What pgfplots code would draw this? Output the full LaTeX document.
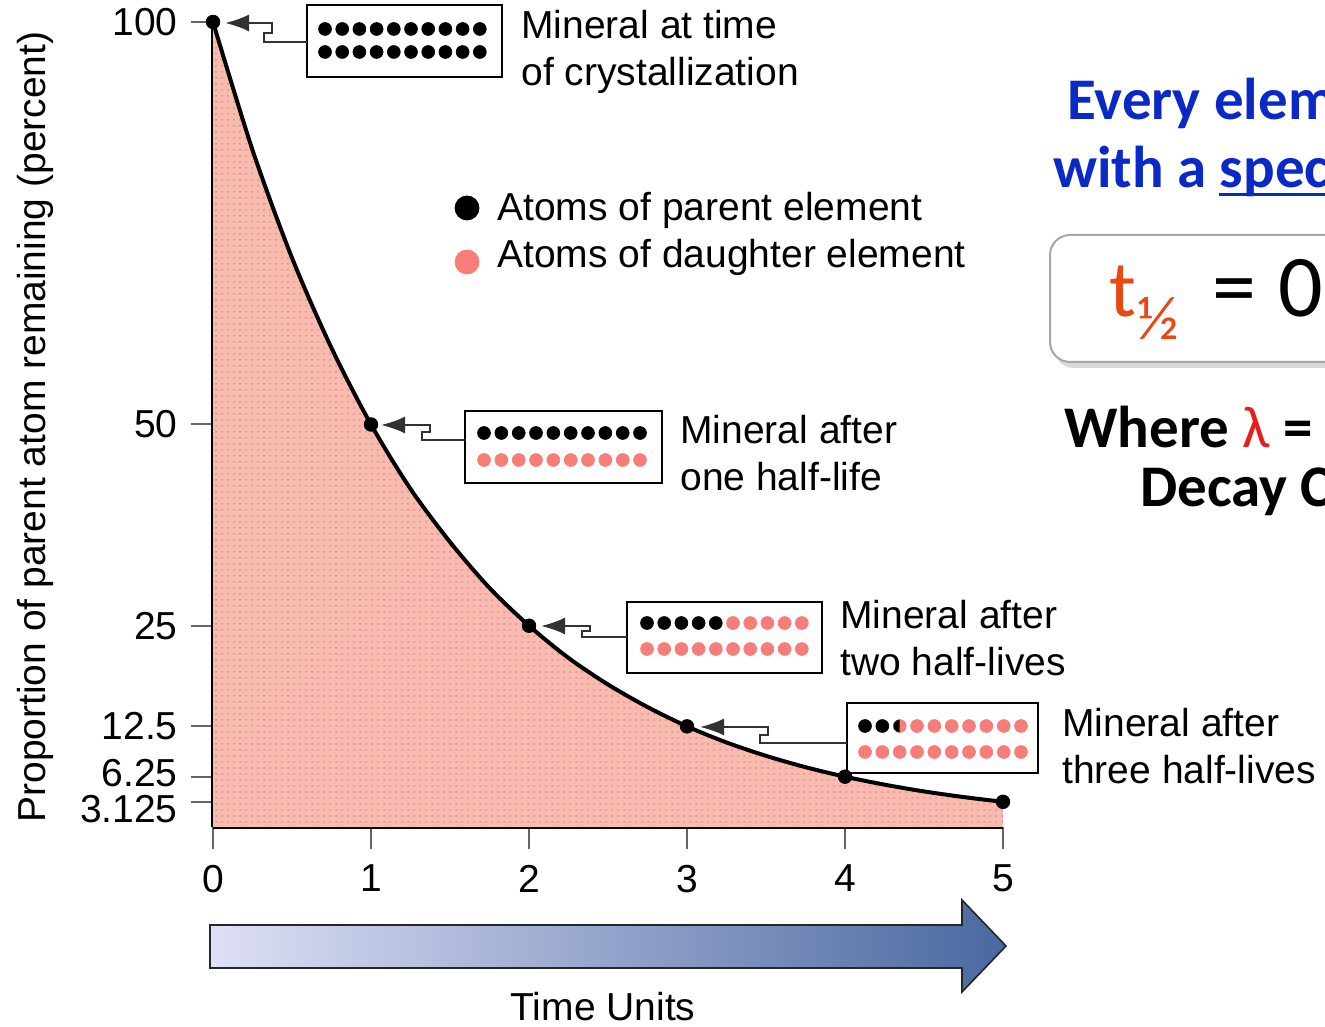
\documentclass[border=0pt]{standalone}
\usepackage{fontspec}
\setmainfont{Liberation Sans}
\newfontfamily\calfont{Carlito}
\usepackage{pgfplots}
\pgfplotsset{compat=1.18}
\usetikzlibrary{arrows.meta,patterns}
\definecolor{salm}{RGB}{247,125,120}
\definecolor{fillpk}{RGB}{248,188,174}
\definecolor{dotpk}{RGB}{234,132,168}
\definecolor{eblue}{RGB}{10,42,200}
\definecolor{tred}{RGB}{234,72,18}
\definecolor{lred}{RGB}{228,32,24}
\definecolor{arrL}{RGB}{222,224,246}
\definecolor{arrM}{RGB}{165,175,214}
\definecolor{arrR}{RGB}{74,104,160}
\definecolor{conn}{RGB}{50,50,50}
\newcommand\bigf{\fontsize{19.5}{23.5}\selectfont}
\begin{document}
\begin{tikzpicture}[trim left=0pt, trim right=662.5pt]
\path (0,0) rectangle (662.5pt,513pt);
% ---------------- main data axis ----------------
\begin{axis}[
  at={(106.5pt,99.5pt)}, anchor=south west,
  scale only axis, width=395pt, height=402.5pt,
  xmin=0, xmax=5, ymin=0, ymax=100,
  axis lines*=left, tick pos=left,
  axis line style={line width=1.6pt, black, -},
  xtick={0,1,2,3,4,5}, xticklabels={0,1,2,3,4,5},
  ytick={3.125,6.25,12.5,25,50,100},
  yticklabels={\raisebox{-3.5pt}[\height][\depth]{3.125},\raisebox{2pt}[\height][\depth]{6.25},12.5,25,50,100},
  tick align=outside, major tick length=11pt,
  major tick style={line width=1pt, black!60},
  ticklabel style={font=\bigf, text=black},
  yticklabel style={inner sep=1pt, xshift=-5.5pt},
  xticklabel style={yshift=-4.5pt},
  clip=false,
]
\addplot[draw=none, fill=fillpk, postaction={pattern=dots, pattern color=dotpk}] coordinates {
(0,100)(0.25,84.1)(0.5,70.7)(0.75,59.5)(1,50)(1.25,42.0)(1.5,35.4)(1.75,29.7)(2,25)
(2.25,21.0)(2.5,17.7)(2.75,14.9)(3,12.5)(3.25,10.5)(3.5,8.84)(3.75,7.43)(4,6.25)
(4.25,5.26)(4.5,4.42)(4.75,3.72)(5,3.125)} \closedcycle;
\addplot[black, line width=2pt, smooth] coordinates {
(0,100)(0.25,84.1)(0.5,70.7)(0.75,59.5)(1,50)(1.25,42.0)(1.5,35.4)(1.75,29.7)(2,25)
(2.25,21.0)(2.5,17.7)(2.75,14.9)(3,12.5)(3.25,10.5)(3.5,8.84)(3.75,7.43)(4,6.25)
(4.25,5.26)(4.5,4.42)(4.75,3.72)(5,3.125)};
\addplot[only marks, mark=*, mark size=3.4pt, color=black] coordinates {
(0,100)(1,50)(2,25)(3,12.5)(4,6.25)(5,3.125)};
\end{axis}
% ---------------- overlay axis in pixel units ----------------
\begin{axis}[
  at={(0pt,0pt)}, anchor=south west,
  scale only axis, width=662.5pt, height=513pt,
  xmin=0, xmax=1325, ymin=0, ymax=1026, y dir=reverse,
  hide axis, clip=false, clip marker paths=true,
]
\draw[line width=1pt, black] (axis cs:307,5) rectangle (axis cs:502,77);
\draw[line width=1pt, black] (axis cs:465,411) rectangle (axis cs:662,483);
\draw[line width=1pt, black] (axis cs:627,602) rectangle (axis cs:822,673);
\draw[line width=1pt, black] (axis cs:847,703) rectangle (axis cs:1038,773);
\addplot[conn, line width=1.1pt, -{Latex[length=12pt,width=8.5pt]}] coordinates {
(307,42)(264,42)(264,33)(272,33)(272,23)(225,23)};
\addplot[conn, line width=1.1pt, -{Latex[length=12pt,width=8.5pt]}] coordinates {
(465,440)(422,440)(422,432)(430,432)(430,425)(381,425)};
\addplot[conn, line width=1.1pt, -{Latex[length=12pt,width=8.5pt]}] coordinates {
(627,637)(582,637)(582,631)(590,631)(590,626)(541,626)};
\addplot[conn, line width=1.1pt, -{Latex[length=12pt,width=8.5pt]}] coordinates {
(847,743)(760,743)(760,735)(768,735)(768,727)(700,727)};
\addplot[only marks, mark=*, mark size=3.2pt, color=black] coordinates {
(325,29)(342.2,29)(359.4,29)(376.6,29)(393.8,29)(411,29)(428.2,29)(445.4,29)(462.6,29)(479.8,29)
(325,52)(342.2,52)(359.4,52)(376.6,52)(393.8,52)(411,52)(428.2,52)(445.4,52)(462.6,52)(479.8,52)};
\addplot[only marks, mark=*, mark size=3.2pt, color=black] coordinates {
(484,433)(501.3,433)(518.7,433)(536,433)(553.3,433)(570.7,433)(588,433)(605.3,433)(622.7,433)(640,433)};
\addplot[only marks, mark=*, mark size=3.2pt, color=salm] coordinates {
(484,460)(501.3,460)(518.7,460)(536,460)(553.3,460)(570.7,460)(588,460)(605.3,460)(622.7,460)(640,460)};
\addplot[only marks, mark=*, mark size=3.2pt, color=black] coordinates {
(647,623)(664.2,623)(681.4,623)(698.6,623)(715.8,623)};
\addplot[only marks, mark=*, mark size=3.2pt, color=salm] coordinates {
(733,623)(750.2,623)(767.4,623)(784.6,623)(801.8,623)
(647,649)(664.2,649)(681.4,649)(698.6,649)(715.8,649)(733,649)(750.2,649)(767.4,649)(784.6,649)(801.8,649)};
\addplot[only marks, mark=*, mark size=3.2pt, color=black] coordinates {
(865,726)(882.3,726)};
\addplot[only marks, mark=*, mark size=3.2pt, color=salm] coordinates {
(899.7,726)(917,726)(934.3,726)(951.7,726)(969,726)(986.3,726)(1003.7,726)(1021,726)
(865,752)(882.3,752)(899.7,752)(917,752)(934.3,752)(951.7,752)(969,752)(986.3,752)(1003.7,752)(1021,752)};
\addplot[fill=black, draw=none] coordinates {
(899.7,719.6)(896.5,720.5)(894.2,722.8)(893.3,726)(894.2,729.2)(896.5,731.5)(899.7,732.4)};
\addplot[only marks, mark=*, mark size=6pt, color=black] coordinates {(467,208)};
\addplot[only marks, mark=*, mark size=6pt, color=salm] coordinates {(467,262)};
\end{axis}
% ---------------- texts in pixel coordinates ----------------
\begin{scope}[x=0.5pt, y=-0.5pt, shift={(0pt,513pt)}]
\tikzset{every node/.style={inner sep=0pt, font=\bigf}}
\node[anchor=base west] at (521,39) {Mineral at time};
\node[anchor=base west] at (521,86) {of crystallization};
\node[anchor=base west] at (497,221) {Atoms of parent element};
\node[anchor=base west] at (497,268) {Atoms of daughter element};
\node[anchor=base west] at (680,444) {Mineral after};
\node[anchor=base west] at (680,491) {one half-life};
\node[anchor=base west] at (840,629) {Mineral after};
\node[anchor=base west] at (840,676) {two half-lives};
\node[anchor=base west] at (1062,737) {Mineral after};
\node[anchor=base west] at (1062,784) {three half-lives};
\node[anchor=base, rotate=90] at (45,427) {Proportion of parent atom remaining (percent)};
\node[anchor=base] at (603,1020) {Time Units};
\shade[left color=arrL, middle color=arrM, right color=arrR, draw=black!85, line width=0.8pt]
 (210,925) -- (962,925) -- (962,900) -- (1006,946) -- (962,992) -- (962,968) -- (210,968) -- cycle;
\node[anchor=base west, text=eblue, font=\calfont\bfseries\fontsize{29.5}{30}\selectfont] at (1067,120) {Every element};
\node[anchor=base west, text=eblue, font=\calfont\bfseries\fontsize{29.5}{30}\selectfont] at (1053,188) {with a specific};
\draw[eblue, line width=1.5pt] (1219,195) -- (1360,195);
\fill[black, opacity=0.15, rounded corners=10pt] (1054,241) rectangle (1380,368);
\draw[rounded corners=10pt, draw=black!35, line width=1pt, fill=white] (1050,235) rectangle (1380,362);
\node[anchor=base west, text=tred, font=\calfont\fontsize{40}{40}\selectfont] at (1109,317) {t};
\node[anchor=base west, text=tred, font=\calfont\fontsize{31}{31}\selectfont] at (1137,340) {½};
\node[anchor=base west, text=black, font=\calfont\fontsize{44}{44}\selectfont] at (1212,317) {=};
\node[anchor=base west, text=black, font=\calfont\fontsize{44}{44}\selectfont] at (1278,317) {0.6};
\node[anchor=base west, text=black, font=\calfont\bfseries\fontsize{29.5}{30}\selectfont] at (1064,448) {Where \textcolor{lred}{\mdseries λ} = R};
\node[anchor=base west, text=black, font=\calfont\bfseries\fontsize{29.5}{30}\selectfont] at (1140,507) {Decay Co};
\end{scope}
\end{tikzpicture}
\end{document}
